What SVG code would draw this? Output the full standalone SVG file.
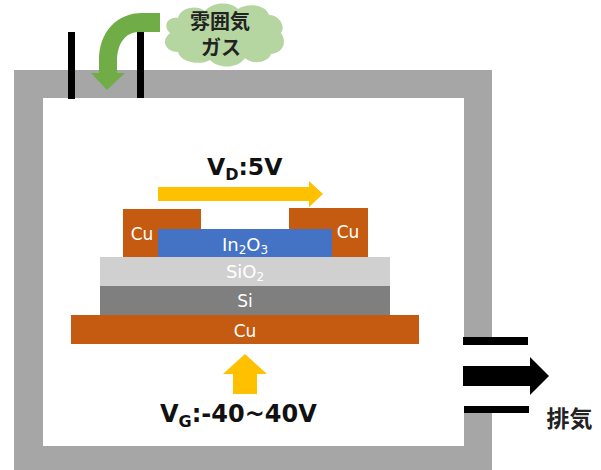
<svg xmlns="http://www.w3.org/2000/svg" width="601" height="470" viewBox="0 0 601 470">
<style>
text{font-family:"DejaVu Sans","Noto Sans CJK JP",sans-serif}
.w{fill:#fff;font-size:17px;text-anchor:middle}
.b{fill:#111;font-size:24px;font-weight:700}
.j{fill:#222;font-size:20px;font-weight:700;text-anchor:middle;font-family:"Noto Sans CJK JP",sans-serif}
.k{fill:#000}
</style>
<rect width="601" height="470" fill="#fff"/>
<g id="chamber">
<path d="M14 70H492V470H14ZM43 98V446H464V98Z" fill="#a6a6a6" fill-rule="evenodd"/>
<rect x="464" y="337" width="30" height="76" fill="#fff"/>
</g>
<g id="connectors">
<rect class="k" x="68" y="32" width="7" height="67"/>
<rect class="k" x="137" y="32" width="7" height="66"/>
<rect class="k" x="463" y="337" width="65" height="8"/>
<rect class="k" x="464" y="406" width="65" height="7"/>
<path class="k" d="M463 366H530V357L549 376L530 395V386H463Z"/>
<path d="M160 13V32H139C125 32 117 44 117 62V73H125L107 90L91 73H99V60C99 32 117 13 142 13Z" fill="#70ad47"/>
<path d="M158 187H309V181L323 194L309 207V201H158Z" fill="#ffc000"/>
<path d="M233 394V374H223L245 354L267 374H257V394Z" fill="#ffc000"/>
</g>
<g id="gas">
<path d="M178 18C180 8 196 4 205 11C212 2 230 1 238 9C248 2 266 5 269 15C279 15 286 26 281 33C287 41 284 53 271 54C268 63 252 65 245 58C238 69 218 69 210 60C200 66 180 62 178 52C166 52 160 41 170 33C162 26 168 16 178 18Z" fill="#b5d6a0"/>
<text class="j" x="220" y="29">雰囲気</text>
<text class="j" x="221" y="55">ガス</text>
</g>
<g id="vd"><text class="b" x="207" y="175" style="font-size:23.5px">V<tspan style="font-size:16px" dy="5">D</tspan><tspan dy="-5">:5V</tspan></text></g>
<g id="cu-left"><rect x="123" y="209" width="78" height="49" fill="#c55a11"/><text class="w" x="142" y="240">Cu</text></g>
<g id="cu-right"><rect x="289" y="208" width="79" height="50" fill="#c55a11"/><text class="w" x="348" y="238">Cu</text></g>
<g id="in2o3"><rect x="158" y="229" width="174" height="29" fill="#4472c4"/><text class="w" x="245" y="251" style="font-size:18px">In<tspan style="font-size:12px" dy="3">2</tspan><tspan dy="-3">O</tspan><tspan style="font-size:12px" dy="3">3</tspan></text></g>
<g id="sio2"><rect x="100" y="257" width="290" height="29" fill="#d0d0d0"/><text class="w" x="245" y="278" style="font-size:18px">SiO<tspan style="font-size:12px" dy="3">2</tspan></text></g>
<g id="si"><rect x="100" y="286" width="290" height="29" fill="#7f7f7f"/><text class="w" x="245" y="307">Si</text></g>
<g id="cu-bottom"><rect x="71" y="315" width="348" height="29" fill="#c55a11"/><text class="w" x="245" y="337">Cu</text></g>
<g id="vg"><text class="b" x="160" y="422">V<tspan style="font-size:16px" dy="5">G</tspan><tspan dy="-5">:-40~40V</tspan></text></g>
<g id="exhaust"><text class="j" x="569.5" y="427" style="font-size:23px">排気</text></g>
</svg>
